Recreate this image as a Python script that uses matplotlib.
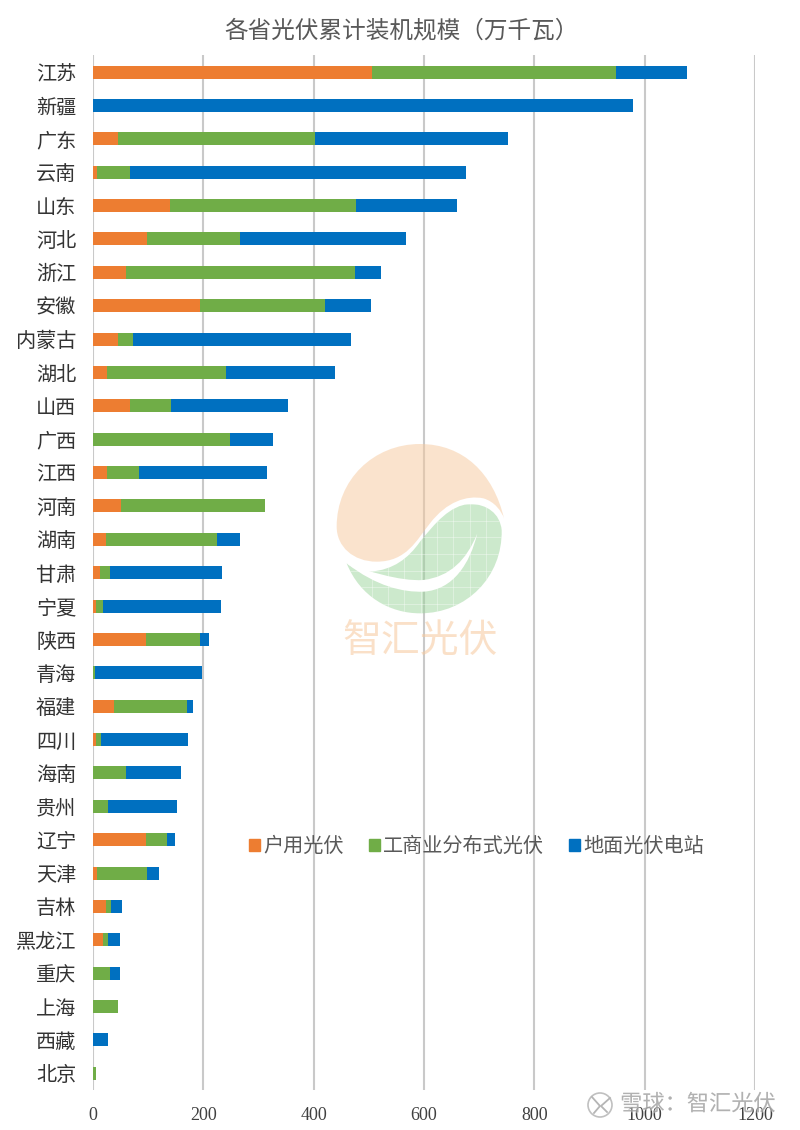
import matplotlib
matplotlib.use("Agg")
import matplotlib.pyplot as plt
import matplotlib.patheffects as pe
from matplotlib.patches import PathPatch, Patch, Circle
from matplotlib.path import Path
import numpy as np

plt.rcParams['font.family'] = ['Noto Sans CJK SC', 'DejaVu Sans']

provinces = ['江苏','新疆','广东','云南','山东','河北','浙江','安徽','内蒙古','湖北','山西','广西','江西','河南','湖南','甘肃',
             '宁夏','陕西','青海','福建','四川','海南','贵州','辽宁','天津','吉林','黑龙江','重庆','上海','西藏','北京']
household = [506,0,45,7,140,98,60,194,45,25,67,0,25,50,23,12,5,96,0,38,5,0,0,96,8,23,18,0,0,0,0]
commercial = [442,0,357,60,337,168,415,226,27,216,74,248,58,261,201,19,13,98,4,132,10,60,28,38,90,10,10,31,46,0,5]
ground = [129,979,350,609,183,301,47,84,396,198,212,78,232,0,42,202,214,16,194,11,157,100,125,15,22,20,21,18,0,27,0]
series_names = ['户用光伏','工商业分布式光伏','地面光伏电站']
series_colors = ['#ED7D31','#70AD47','#0070C0']
x_ticks = [0,200,400,600,800,1000,1200]
title = '各省光伏累计装机规模（万千瓦）'

W, H = 800, 1130
fig = plt.figure(figsize=(W/100, H/100), dpi=100, facecolor='white')
ax = fig.add_axes([93/W, (H-1090)/H, 662/W, 1034.6/H])

y = np.arange(len(provinces))
left = np.zeros(len(provinces))
for vals, name, col in zip([household, commercial, ground], series_names, series_colors):
    ax.barh(y, vals, left=left, height=0.39, color=col, label=name, zorder=3, linewidth=0)
    left += np.array(vals)

ax.set_xlim(0, 1200)
ax.set_ylim(len(provinces)-0.5, -0.5)
ax.set_yticks(y, provinces)
ax.set_xticks(x_ticks, [str(v) for v in x_ticks])
ax.grid(axis='x', color='#c9c9c9', linewidth=1.5, zorder=0)
ax.set_axisbelow(True)
for s in ax.spines.values():
    s.set_visible(False)
ax.tick_params(axis='both', length=0)
ax.tick_params(axis='y', pad=12, labelsize=14.5, labelcolor='#333333')
ax.tick_params(axis='x', pad=12)
for lab in ax.get_xticklabels():
    lab.set_fontfamily('Liberation Serif')
    lab.set_fontsize(13)
    lab.set_color('#404040')

fig.text(402/W, 1-31/H, title, ha='center', va='center', fontsize=17, color='#595959')

handles = [Patch(color=c, label=n) for c, n in zip(series_colors, series_names)]
leg = ax.legend(handles=handles, loc='center left', bbox_to_anchor=(0.2355, 0.2353), ncol=3, frameon=False,
                fontsize=14.5, labelcolor='#595959', handlelength=0.55, handleheight=0.55, handletextpad=0.15,
                columnspacing=1.25, borderpad=0, borderaxespad=0)

# Overlay for the watermarks, in image pixels
ov = fig.add_axes([0, 0, 1, 1], zorder=10)
ov.set_xlim(0, W); ov.set_ylim(H, 0); ov.axis('off'); ov.patch.set_alpha(0)

def P(zx, zy):
    return (320+zx/3, 430+zy/3)

def bez(pts):
    verts = [P(*p) for p in pts]
    codes = [Path.MOVETO] + [Path.CURVE4]*(len(verts)-2) + [Path.CLOSEPOLY]
    return Path(verts, codes)

peach = bez([(552,265),(520,130),(430,42),(300,42),(160,42),(50,150),(50,290),(50,350),(100,395),(170,395),
             (260,395),(290,330),(330,280),(380,215),(440,195),(490,205),(525,215),(545,245),(552,265),(552,265)])
ov.add_patch(PathPatch(peach, fc='#F6C89C', ec='none', alpha=0.5))

green = bez([(80,400),(120,500),(210,550),(300,550),(440,550),(548,440),(545,300),(540,250),(500,222),(450,222),
             (390,225),(345,280),(300,335),(265,385),(220,420),(150,425),(125,425),(100,415),(80,400),(80,400)])
gp = PathPatch(green, fc='#9AD49A', ec='none', alpha=0.5)
ov.add_patch(gp)
for zx in range(155, 520, 49):
    l, = ov.plot([P(zx,0)[0]]*2, [P(0,220)[1], P(0,552)[1]], color='white', lw=0.5, alpha=0.5)
    l.set_clip_path(gp)
for zy in range(222, 552, 50):
    l, = ov.plot([P(80,0)[0], P(550,0)[0]], [P(0,zy)[1]]*2, color='white', lw=0.5, alpha=0.5)
    l.set_clip_path(gp)
crescent = bez([(80,400),(170,470),(250,487),(310,485),(400,480),(450,400),(472,310),(440,390),(390,440),(310,450),
                (240,455),(130,420),(80,400),(80,400)])
ov.add_patch(PathPatch(crescent, fc='white', ec='none'))

ov.text(420, 641, '智汇光伏', ha='center', va='center', fontsize=28, color='#F6C89C', alpha=0.55)

# Bottom-right site watermark
halo = [pe.withStroke(linewidth=1.5, foreground='white', alpha=0.35)]
ov.text(698, 1104, '雪球：智汇光伏', ha='center', va='center', fontsize=16, color='#9a9a9a', alpha=0.7, path_effects=halo)
ov.add_patch(Circle((600, 1105), 12, fc='white', ec='#b5b5b5', lw=1.2, alpha=0.85))
ov.plot([592,600,594], [1097,1106,1113], color='#b5b5b5', lw=1.3)
ov.plot([610,601,607], [1098,1106,1112], color='#b5b5b5', lw=1.3)

fig.savefig('out.png', dpi=100, facecolor='white')
